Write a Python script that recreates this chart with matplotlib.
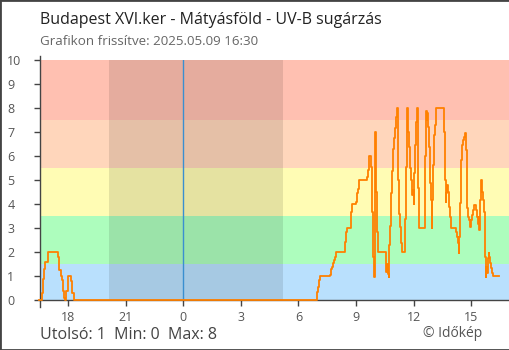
import matplotlib
matplotlib.use("Agg")
import matplotlib.pyplot as plt
from matplotlib.patches import Rectangle

plt.rcParams['font.family'] = ['Open Sans', 'DejaVu Sans']

# UV-B readings, hours relative to midnight (negative = previous day)
uv_time = [
    -7.50, -7.36, -7.31, -7.26, -7.19, -7.06, -6.53, -6.46, -6.39, -6.30,
    -6.25, -6.20, -6.15, -6.11, -6.02, -5.85, -5.78, -5.69,
    6.95, 6.98, 7.03, 7.08, 7.14, 7.63, 7.68, 7.73, 7.78, 7.83, 7.89, 7.94,
    8.44, 8.49, 8.54, 8.75, 8.80, 9.00, 9.05, 9.10, 9.15, 9.55, 9.60, 9.65,
    9.69, 9.80, 9.84, 9.88, 9.93, 9.99, 10.02, 10.05, 10.10, 10.16, 10.54,
    10.57, 10.61, 10.65, 10.69, 10.71, 10.76, 10.81, 10.86, 10.91, 10.96,
    11.03, 11.07, 11.11, 11.16, 11.19, 11.24, 11.27, 11.33, 11.38, 11.56,
    11.60, 11.63, 11.66, 11.70, 11.73, 11.78, 11.83, 11.88, 11.92, 11.97,
    12.01, 12.03, 12.08, 12.12, 12.18, 12.21, 12.24, 12.28, 12.57, 12.60,
    12.64, 12.67, 12.71, 12.74, 12.79, 12.84, 12.88, 12.93, 12.96, 13.00,
    13.05, 13.10, 13.14, 13.56, 13.63, 13.66, 13.70, 13.73, 13.77, 13.80,
    13.84, 13.89, 13.94, 14.19, 14.24, 14.29, 14.34, 14.38, 14.41, 14.45,
    14.48, 14.52, 14.57, 14.63, 14.66, 14.70, 14.73, 14.78, 14.83, 14.89,
    14.94, 14.98, 15.02, 15.07, 15.14, 15.26, 15.31, 15.35, 15.39, 15.42,
    15.47, 15.51, 15.54, 15.57, 15.63, 15.68, 15.71, 15.75, 15.78, 15.82,
    15.85, 15.91, 15.94, 15.99, 16.04, 16.09, 16.15, 16.45,
]
uv_value = [
    0.0, 0.3, 0.9, 1.3, 1.6, 2.0, 1.8, 1.25, 1.0, 0.85,
    0.4, 0.1, 0.0, 0.4, 1.0, 0.8, 0.3, 0.0,
    0.08, 0.36, 0.57, 0.85, 1.0, 1.05, 1.29, 1.4, 1.54, 1.68, 1.8, 2.0,
    2.44, 2.83, 3.0, 3.69, 4.0, 4.1, 4.46, 4.62, 5.0, 5.15, 5.43, 5.78,
    6.0, 5.57, 3.7, 1.8, 0.96, 7.0, 6.2, 4.5, 2.86, 2.0, 1.54,
    1.2, 1.5, 1.1, 0.96, 2.3, 3.1, 4.46, 5.4, 6.3, 6.75,
    7.2, 7.65, 8.0, 7.0, 5.0, 3.6, 3.07, 2.37, 2.0, 3.4,
    5.57, 7.2, 8.0, 7.3, 7.0, 6.4, 5.5, 5.0, 4.4, 4.6,
    4.0, 5.3, 6.47, 7.44, 8.0, 6.5, 4.67, 3.0, 4.2, 6.0,
    7.9, 7.5, 7.8, 7.23, 6.4, 4.87, 4.18, 3.0, 4.18, 5.64,
    6.89, 7.3, 8.0, 7.0, 5.0, 4.1, 4.46, 4.8, 4.6, 4.5,
    3.9, 3.48, 3.0, 2.86, 2.65, 2.37, 1.96, 2.65, 4.04, 5.0,
    5.85, 6.47, 6.68, 6.82, 6.96, 6.54, 6.26, 3.83, 3.48, 3.35,
    3.07, 3.35, 3.55, 3.76, 3.97, 3.76, 3.48, 3.2, 3.48, 2.93,
    4.18, 5.0, 4.8, 4.5, 4.18, 3.69, 1.8, 0.98, 1.4, 1.13,
    1.75, 1.96, 1.8, 1.54, 1.33, 1.13, 1.0, 1.0,
]

# UV index bands
band_low = [0, 1.5, 3.5, 5.5, 7.5]
band_high = [1.5, 3.5, 5.5, 7.5, 10]
band_colors = ['#b9e0fd', '#adfdbd', '#fffcb4', '#ffd6bb', '#ffc0b1']

sunset = -3.87
sunrise = 5.19

tick_pos = [-6, -3, 0, 3, 6, 9, 12, 15]
tick_labels = ['18', '21', '0', '3', '6', '9', '12', '15']

fig = plt.figure(figsize=(5.1, 3.5), dpi=100)
ax = fig.add_axes([40.3 / 510, 49.7 / 350, 468.4 / 510, 240 / 350])

for lo, hi, c in zip(band_low, band_high, band_colors):
    ax.axhspan(lo, hi, color=c, lw=0, zorder=0)
ax.axvspan(sunset, sunrise, color='black', alpha=0.1, lw=0, zorder=1)
ax.axvline(0, color='#3a8fd0', lw=1, zorder=2)

ax.step(uv_time, uv_value, where='post', color='#ff8000', lw=1.3,
        zorder=3, clip_on=False)

ax.set_xlim(-7.45, 16.95)
ax.set_ylim(0, 10)
ax.set_yticks(range(0, 11))
ax.set_xticks(tick_pos, tick_labels)

for s in ['top', 'right']:
    ax.spines[s].set_visible(False)
for s in ['left', 'bottom']:
    ax.spines[s].set_color('#444444')
    ax.spines[s].set_linewidth(1)
ax.spines['left'].set_bounds(-0.27, 10.2)

ax.tick_params(axis='both', colors='#444444', labelcolor='#555555',
               length=4.3, width=1, labelsize=9)
ax.tick_params(axis='x', pad=3.5)
ax.tick_params(axis='y', pad=19.5)
for lbl in ax.get_yticklabels():
    lbl.set_horizontalalignment('left')

fig.text(40 / 510, 1 - 24.5 / 350, 'Budapest XVI.ker - Mátyásföld - UV-B sugárzás',
         fontsize=11.5, color='#222222', va='baseline')
fig.text(40 / 510, 1 - 45 / 350, 'Grafikon frissítve: 2025.05.09 16:30',
         fontsize=9.6, color='#666666', va='baseline')
fig.text(40 / 510, 1 - 339.3 / 350, 'Utolsó: 1  Min: 0  Max: 8',
         fontsize=11.5, color='#444444', va='baseline')
fig.text(482 / 510, 1 - 336.7 / 350, '© Időkép',
         fontsize=10, color='#555555', va='baseline', ha='right')

fig.patches.append(Rectangle((0, 0), 1, 1, transform=fig.transFigure,
                             fill=False, ec='#444444', lw=2))

fig.savefig('out.png', dpi=100)
